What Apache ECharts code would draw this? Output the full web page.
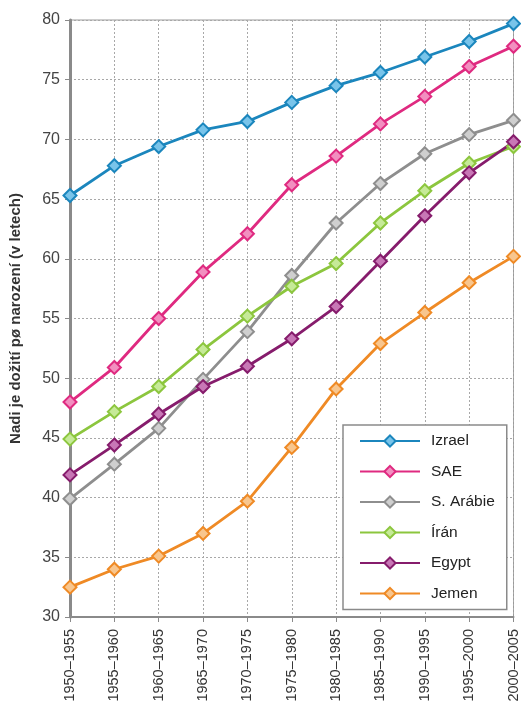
<!DOCTYPE html>
<html>
<head>
<meta charset="utf-8">
<script src="https://cdn.jsdelivr.net/npm/echarts@6/dist/echarts.min.js"></script>
<style>html,body{margin:0;padding:0;background:#fff;}#c{width:521px;height:713px;}</style>
</head>
<body>
<div id="c"></div>
<script>
const categories = ['1950–1955','1955–1960','1960–1965','1965–1970','1970–1975','1975–1980','1980–1985','1985–1990','1990–1995','1995–2000','2000–2005'];
const izrael   = [65.3, 67.8, 69.4, 70.8, 71.5, 73.1, 74.5, 75.6, 76.9, 78.2, 79.7];
const sae      = [48.0, 50.9, 55.0, 58.9, 62.1, 66.2, 68.6, 71.3, 73.6, 76.1, 77.8];
const sArabie  = [39.9, 42.8, 45.8, 49.9, 53.9, 58.6, 63.0, 66.3, 68.8, 70.4, 71.6];
const iran     = [44.9, 47.2, 49.3, 52.4, 55.2, 57.7, 59.6, 63.0, 65.7, 68.0, 69.4];
const egypt    = [41.9, 44.4, 47.0, 49.3, 51.0, 53.3, 56.0, 59.8, 63.6, 67.2, 69.8];
const jemen    = [32.5, 34.0, 35.1, 37.0, 39.7, 44.2, 49.1, 52.9, 55.5, 58.0, 60.2];
const yTicks   = [30, 35, 40, 45, 50, 55, 60, 65, 70, 75, 80];

const seriesDefs = [
  {name:'Izrael', data:izrael, color:'#1b86bd', fill:'#79c4ea'},
  {name:'SAE', data:sae, color:'#df2a80', fill:'#f28fc0'},
  {name:'S. Arábie', data:sArabie, color:'#8e8e8e', fill:'#cfcfcf'},
  {name:'Írán', data:iran, color:'#8cc63e', fill:'#c6ea98'},
  {name:'Egypt', data:egypt, color:'#861c6c', fill:'#c877b6'},
  {name:'Jemen', data:jemen, color:'#ef8a25', fill:'#f8c68e'}
];

const chart = echarts.init(document.getElementById('c'));
chart.setOption({
  animation:false,
  backgroundColor:'#fff',
  textStyle:{fontFamily:'Liberation Sans, Arial, sans-serif'},
  grid:{left:70, right:7, top:20, bottom:96, show:true, borderColor:'#9a9a9a', borderWidth:1},
  legend:{
    orient:'vertical', left:343, top:425,
    backgroundColor:'#fff', borderColor:'#8a8a8a', borderWidth:1.5,
    padding:[8, 12, 8, 16], itemGap:14.5, itemWidth:60, itemHeight:14,
    textStyle:{fontSize:15.5, color:'#222', padding:[0,0,0,6]},
    data: seriesDefs.map(s=>s.name)
  },
  xAxis:{
    type:'category', data:categories, boundaryGap:false,
    axisLine:{lineStyle:{color:'#8a8a8a', width:2}},
    axisTick:{show:true, length:5, alignWithLabel:true, lineStyle:{color:'#8a8a8a'}},
    axisLabel:{rotate:90, fontSize:14.5, color:'#333', margin:12, interval:0},
    splitLine:{show:true, lineStyle:{color:'#a8a8a8', type:[2,2], width:1}}
  },
  yAxis:{
    type:'value', min:30, max:80, interval:5,
    name:'Nadi je dožití pø narození (v letech)', nameLocation:'middle', nameGap:47,
    nameTextStyle:{fontSize:15, fontWeight:'bold', color:'#333'},
    axisLine:{show:true, lineStyle:{color:'#8a8a8a', width:3}},
    axisTick:{show:true, length:5, lineStyle:{color:'#8a8a8a'}},
    axisLabel:{fontSize:16, color:'#444', margin:10, formatter:v=>yTicks.includes(v)?String(v):''},
    splitLine:{show:true, lineStyle:{color:'#a8a8a8', type:[2,2], width:1}}
  },
  series: seriesDefs.map(s=>({
    name:s.name, type:'line', data:s.data,
    symbol:'diamond', symbolSize:13, showAllSymbol:true,
    lineStyle:{color:s.color, width:2.8},
    itemStyle:{color:s.fill, borderColor:s.color, borderWidth:2},
    emphasis:{disabled:true}
  }))
});
</script>
</body>
</html>
